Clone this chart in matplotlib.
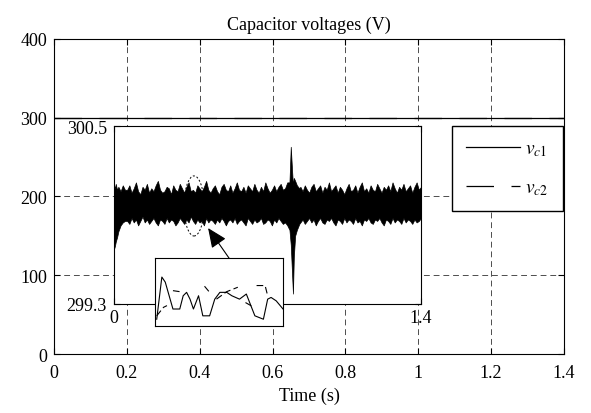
import numpy as np
import matplotlib
matplotlib.use('Agg')
import matplotlib.pyplot as plt
from matplotlib.patches import Ellipse

plt.rcParams['font.family'] = ['Liberation Serif', 'DejaVu Serif']
plt.rcParams['mathtext.fontset'] = 'stix'

# main plot: both capacitor voltages sit at 300 V
main_t = [0.0, 1.4]
vc1_main = [300, 300]
vc2_main = [300, 300]
x_ticks = [0, 0.2, 0.4, 0.6, 0.8, 1.0, 1.2, 1.4]
x_labels = ['0', '0.2', '0.4', '0.6', '0.8', '1', '1.2', '1.4']
y_ticks = [0, 100, 200, 300, 400]

# zoomed band (envelope of the ripple)
start_t = [0.0, 0.004, 0.008, 0.014, 0.02, 0.03, 0.04, 0.05]
start_hi = [300.10, 300.08, 300.11, 300.07, 300.09, 300.06, 300.10, 300.07]
start_lo = [299.67, 299.69, 299.72, 299.75, 299.79, 299.83, 299.85, 299.86]

segA_t = np.round(np.arange(0.06, 0.795, 0.01), 3)
segA_hi = [300.07, 300.10, 300.05, 300.08, 300.12, 300.06, 300.04, 300.09, 300.07, 300.11,
           300.05, 300.08, 300.06, 300.10, 300.13, 300.07, 300.05, 300.06, 300.09, 300.08,
           300.04, 300.10, 300.07, 300.06, 300.11, 300.08, 300.05, 300.09, 300.12, 300.06,
           300.07, 300.05, 300.10, 300.08, 300.06, 300.09, 300.13, 300.07, 300.05, 300.08,
           300.10, 300.06, 300.04, 300.09, 300.11, 300.07, 300.06, 300.10, 300.05, 300.08,
           300.12, 300.07, 300.06, 300.09, 300.05, 300.10, 300.08, 300.06, 300.11, 300.07,
           300.05, 300.09, 300.06, 300.12, 300.08, 300.05, 300.07, 300.10, 300.06, 300.09,
           300.11, 300.07, 300.08, 300.12]
segA_lo = [299.86, 299.84, 299.88, 299.85, 299.87, 299.83, 299.86, 299.89, 299.85, 299.87,
           299.84, 299.86, 299.88, 299.85, 299.83, 299.87, 299.86, 299.84, 299.88, 299.85,
           299.87, 299.86, 299.83, 299.85, 299.88, 299.86, 299.84, 299.87, 299.85, 299.89,
           299.86, 299.84, 299.87, 299.85, 299.86, 299.83, 299.88, 299.85, 299.87, 299.86,
           299.84, 299.87, 299.85, 299.88, 299.86, 299.83, 299.86, 299.87, 299.85, 299.88,
           299.84, 299.86, 299.87, 299.85, 299.83, 299.88, 299.86, 299.84, 299.87, 299.85,
           299.86, 299.88, 299.84, 299.85, 299.87, 299.86, 299.83, 299.87, 299.85, 299.88,
           299.86, 299.84, 299.85, 299.83]

# load step transient
spike_t = [0.80, 0.806, 0.812, 0.816, 0.82, 0.826, 0.834, 0.845]
spike_hi = [300.12, 300.36, 300.20, 300.10, 300.15, 300.13, 300.10, 300.08]
spike_lo = [299.80, 299.70, 299.50, 299.37, 299.62, 299.76, 299.80, 299.84]

segB_t = np.round(np.arange(0.85, 1.405, 0.01), 3)
segB_hi = [300.09, 300.06, 300.10, 300.07, 300.05, 300.09, 300.11, 300.06, 300.08, 300.10,
           300.05, 300.09, 300.07, 300.12, 300.06, 300.08, 300.10, 300.05, 300.09, 300.07,
           300.04, 300.08, 300.11, 300.06, 300.07, 300.10, 300.05, 300.09, 300.12, 300.06,
           300.08, 300.05, 300.10, 300.07, 300.06, 300.11, 300.08, 300.05, 300.09, 300.07,
           300.10, 300.06, 300.12, 300.08, 300.05, 300.09, 300.07, 300.11, 300.06, 300.08,
           300.10, 300.05, 300.09, 300.12, 300.07, 300.09]
segB_lo = [299.85, 299.87, 299.84, 299.86, 299.88, 299.85, 299.87, 299.83, 299.86, 299.88,
           299.85, 299.84, 299.87, 299.86, 299.88, 299.85, 299.83, 299.87, 299.86, 299.84,
           299.88, 299.85, 299.87, 299.86, 299.84, 299.88, 299.85, 299.86, 299.83, 299.87,
           299.86, 299.88, 299.85, 299.84, 299.87, 299.86, 299.88, 299.85, 299.83, 299.87,
           299.86, 299.84, 299.88, 299.85, 299.87, 299.86, 299.84, 299.88, 299.85, 299.87,
           299.86, 299.84, 299.87, 299.85, 299.86, 299.88]

band_t = np.concatenate([start_t, segA_t, spike_t, segB_t])
band_hi = np.concatenate([start_hi, segA_hi, spike_hi, segB_hi])
band_lo = np.concatenate([start_lo, segA_lo, spike_lo, segB_lo])

# close-up of a few switching periods
zoom_t1 = [0.3602, 0.3608, 0.3612, 0.3621, 0.3629, 0.3633, 0.3637, 0.3641, 0.3645,
           0.3651, 0.3656, 0.3664, 0.3670, 0.3676, 0.3684, 0.3690, 0.3699, 0.3707,
           0.3717, 0.3727, 0.3732, 0.3736, 0.3742, 0.3750]
zoom_vc1 = [299.900, 300.024, 300.009, 299.930, 299.930, 299.969, 299.979, 299.959, 299.930,
            299.969, 299.910, 299.910, 299.959, 299.979, 299.979, 299.969, 299.959, 299.974,
            299.910, 299.900, 299.959, 299.964, 299.954, 299.930]
nan = float('nan')
zoom_t2 = [0.3602, 0.3610, 0.3614, nan, 0.3621, 0.3629, nan, 0.3658, 0.3664, nan,
           0.3672, 0.3684, 0.3697, nan, 0.3706, 0.3713, nan, 0.3719, 0.3729, 0.3732]
zoom_vc2 = [299.910, 299.935, 299.940, nan, 299.984, 299.981, nan, 299.997, 299.979, nan,
            299.959, 299.981, 299.994, nan, 299.949, 299.939, nan, 299.999, 299.999, 299.969]

fig = plt.figure(figsize=(5.91, 4.14), dpi=100)
ax = fig.add_axes([0.0914, 0.1425, 0.8629, 0.7609])
l2, = ax.plot(main_t, vc2_main, color='k', lw=0.9, dashes=(22, 14), label=r'$v_{c2}$')
l1, = ax.plot(main_t, vc1_main, color='k', lw=0.9, label=r'$v_{c1}$')
ax.set_xlim(0, 1.4)
ax.set_ylim(0, 400)
ax.set_xticks(x_ticks)
ax.set_xticklabels(x_labels)
ax.set_yticks(y_ticks)
ax.grid(True, ls=(0, (6, 4)), color='0.3', lw=0.7)
ax.tick_params(direction='in', top=True, right=True, labelsize=13, length=4)
ax.tick_params(axis='x', pad=7)
ax.tick_params(axis='y', pad=5)
ax.set_title('Capacitor voltages (V)', fontsize=13, pad=7)
ax.set_xlabel('Time (s)', fontsize=13, labelpad=4)

leg = fig.legend([l1, l2], [r'$v_{c1}$', r'$v_{c2}$'], loc='upper left',
                 bbox_to_anchor=(452 / 591, 1 - 127 / 414),
                 borderaxespad=0, fancybox=False, edgecolor='k', framealpha=1,
                 fontsize=14, handlelength=2.8, handletextpad=0.25,
                 borderpad=0.72, labelspacing=1.05)
leg.get_frame().set_linewidth(1.0)

ins = fig.add_axes([0.1929, 0.2633, 0.5195, 0.4299])
ins.fill_between(band_t, band_lo, band_hi, color='k', lw=0.5)
ins.set_xlim(0, 1.4)
ins.set_ylim(299.3, 300.5)
ins.set_xticks([0, 1.4])
ins.set_xticklabels(['0', '1.4'])
ins.set_yticks([299.3, 300.5])
ins.set_yticklabels(['299.3', '300.5'])
ins.tick_params(direction='in', top=True, right=True, labelsize=13, length=4)
ins.tick_params(axis='x', pad=3.5)
ins.tick_params(axis='y', pad=5)
ins.add_patch(Ellipse((0.365, 299.961), width=0.091, height=0.405, fill=False,
                      ec='k', lw=0.7, ls=(0, (2, 2))))
ins.annotate('', xy=(0.429, 299.812), xytext=(0.529, 299.60),
             arrowprops=dict(arrowstyle='-|>,head_length=0.8,head_width=0.35',
                             mutation_scale=15, color='k', lw=0.8,
                             shrinkA=0, shrinkB=0))

sm = fig.add_axes([0.2623, 0.2101, 0.2166, 0.1643])
sm.plot(zoom_t1, zoom_vc1, color='k', lw=0.8)
sm.plot(zoom_t2, zoom_vc2, color='k', lw=0.8, dashes=(6, 3))
sm.set_xlim(0.3600, 0.3750)
sm.set_ylim(299.88, 300.08)
sm.set_xticks([])
sm.set_yticks([])

fig.savefig('out.png', dpi=100)
